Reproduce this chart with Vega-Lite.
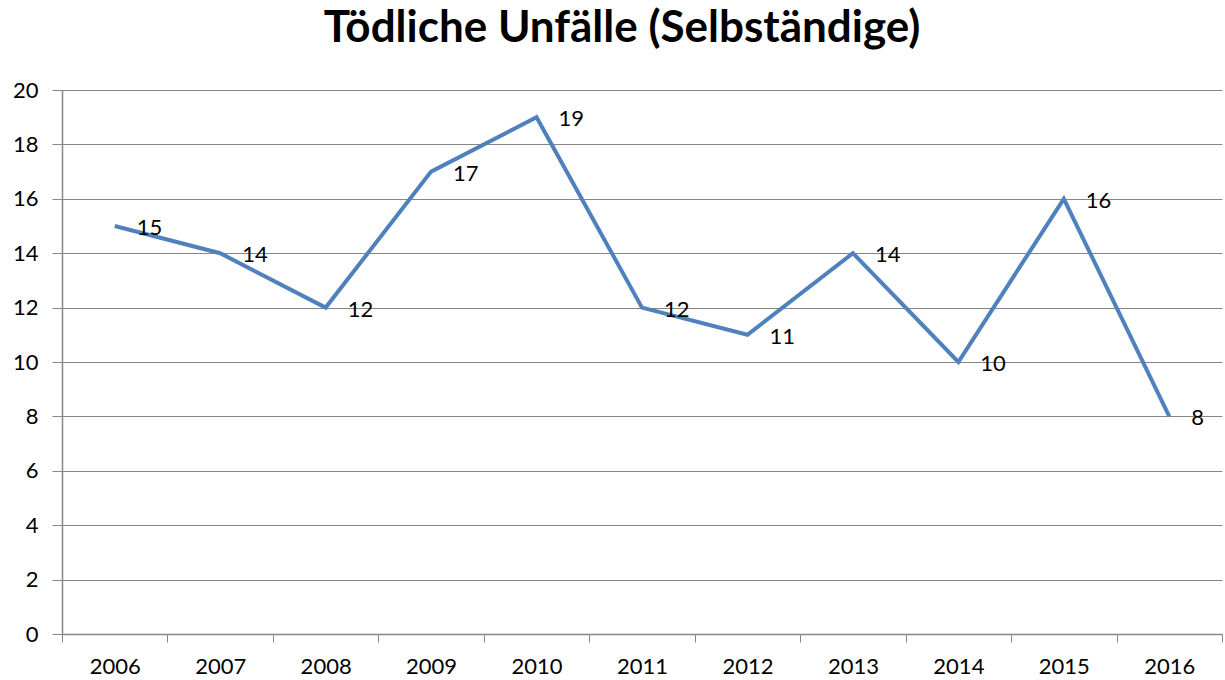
{
  "$schema": "https://vega.github.io/schema/vega-lite/v6.json",
  "autosize": "none",
  "width": 1160,
  "height": 544,
  "padding": {"left": 62, "top": 90, "right": 3, "bottom": 46},
  "background": "white",
  "title": {
    "text": "Tödliche Unfälle (Selbständige)",
    "font": "Lato",
    "fontSize": 44,
    "fontWeight": "bold",
    "color": "black",
    "anchor": "middle",
    "dx": -20,
    "offset": 28
  },
  "data": {
    "values": [
      {"year": "2006", "value": 15},
      {"year": "2007", "value": 14},
      {"year": "2008", "value": 12},
      {"year": "2009", "value": 17},
      {"year": "2010", "value": 19},
      {"year": "2011", "value": 12},
      {"year": "2012", "value": 11},
      {"year": "2013", "value": 14},
      {"year": "2014", "value": 10},
      {"year": "2015", "value": 16},
      {"year": "2016", "value": 8}
    ]
  },
  "config": {
    "view": {"stroke": null},
    "axis": {
      "labelFont": "Lato",
      "labelFontSize": 22,
      "labelColor": "black",
      "domainColor": "#868686",
      "tickColor": "#868686",
      "gridColor": "#868686",
      "title": null
    }
  },
  "encoding": {
    "x": {
      "field": "year",
      "type": "ordinal",
      "bandPosition": 0.5,
      "scale": {"type": "band", "paddingInner": 0, "paddingOuter": 0},
      "axis": {"labelAngle": 0, "tickBand": "extent", "tickSize": 8, "labelPadding": 14, "grid": false, "domainWidth": 1.5}
    },
    "y": {
      "field": "value",
      "type": "quantitative",
      "scale": {"domain": [0, 20], "nice": false},
      "axis": {"values": [0, 2, 4, 6, 8, 10, 12, 14, 16, 18, 20], "tickSize": 10, "labelPadding": 14, "grid": true, "gridWidth": 1.2, "domainWidth": 1.5}
    }
  },
  "layer": [
    {"mark": {"type": "line", "color": "#4F81BD", "strokeWidth": 4}},
    {"mark": {"type": "text", "align": "left", "baseline": "middle", "dx": 22, "dy": 2, "font": "Lato", "fontSize": 22, "color": "black"}, "encoding": {"text": {"field": "value"}}}
  ]
}
